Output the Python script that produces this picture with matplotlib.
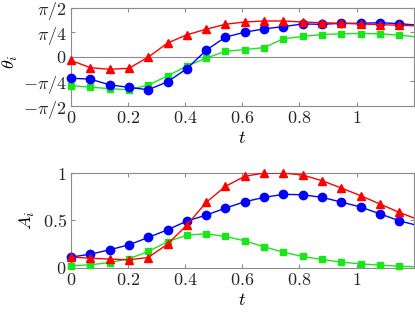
import numpy as np
import matplotlib
matplotlib.use("Agg")
import matplotlib.pyplot as plt

plt.rcParams['mathtext.fontset'] = 'cm'
plt.rcParams['font.family'] = 'serif'
plt.rcParams['font.serif'] = ['cmr10', 'DejaVu Serif']

dt = 0.0676
t = np.arange(19) * dt

# theta_i in units of pi/2
theta_red = [-0.073, -0.22, -0.253, -0.233, -0.007, 0.28, 0.447, 0.56, 0.66, 0.707,
             0.727, 0.727, 0.707, 0.693, 0.68, 0.667, 0.653, 0.64, 0.627]
theta_blue = [-0.433, -0.453, -0.567, -0.62, -0.667, -0.507, -0.24, 0.133, 0.4, 0.5,
              0.567, 0.613, 0.667, 0.66, 0.68, 0.68, 0.693, 0.673, 0.64]
theta_green = [-0.587, -0.613, -0.647, -0.667, -0.573, -0.387, -0.187, -0.027, 0.113, 0.147,
               0.187, 0.367, 0.413, 0.453, 0.467, 0.473, 0.467, 0.44, 0.4]

A_red = [0.113, 0.102, 0.092, 0.085, 0.109, 0.25, 0.45, 0.69, 0.86, 0.965,
         1.0, 1.0, 0.979, 0.919, 0.842, 0.761, 0.673, 0.585, 0.507]
A_blue = [0.113, 0.144, 0.19, 0.243, 0.32, 0.401, 0.493, 0.556, 0.63, 0.697,
          0.743, 0.775, 0.771, 0.743, 0.694, 0.641, 0.57, 0.496, 0.444]
A_green = [0.021, 0.032, 0.056, 0.095, 0.173, 0.275, 0.345, 0.359, 0.331, 0.285,
           0.222, 0.165, 0.12, 0.088, 0.06, 0.042, 0.028, 0.018, 0.01]

xticks = [0, 0.2, 0.4, 0.6, 0.8, 1.0]
xticklabels = ['$0$', '$0.2$', '$0.4$', '$0.6$', '$0.8$', '$1$']
yticks_top = [-np.pi/2, -np.pi/4, 0, np.pi/4, np.pi/2]
yticklabels_top = [r'${-}\pi/2$', r'${-}\pi/4$', '$0$', r'$\pi/4$', r'$\pi/2$']
yticks_bot = [0, 0.5, 1]
yticklabels_bot = ['$0$', '$0.5$', '$1$']

RED = '#ff0000'
BLUE = '#0000ff'
GREEN = '#19e619'
SPINE = '#8c8c8c'
FS = 13
XMAX = 1.2

fig = plt.figure(figsize=(4.15, 3.14), dpi=100)
ax1 = fig.add_axes([0.171, 0.662, 0.826, 0.314])
ax2 = fig.add_axes([0.171, 0.147, 0.826, 0.302])

def style(ax):
    for s in ax.spines.values():
        s.set_color(SPINE)
        s.set_linewidth(0.8)
    ax.tick_params(direction='in', top=True, right=True, length=3, width=0.8,
                   color=SPINE, labelsize=FS, pad=3, labelcolor='#262626')
    ax.set_xlim(0, XMAX)
    ax.set_xticks(xticks)
    ax.set_xticklabels(xticklabels)

def series(ax, y, marker, color, ms, z):
    y = np.asarray(y)
    ax.plot(t, y, '-', color=color, lw=1.0, zorder=z)
    m = t <= XMAX
    ax.plot(t[m], y[m], linestyle='none', marker=marker, color=color, ms=ms,
            clip_on=False, zorder=z)

ax1.axhline(0, color=SPINE, lw=0.8, zorder=1)
series(ax1, np.array(theta_green) * np.pi / 2, 's', GREEN, 4.2, 3)
series(ax1, np.array(theta_blue) * np.pi / 2, 'o', BLUE, 6, 4)
series(ax1, np.array(theta_red) * np.pi / 2, '^', RED, 6, 5)
style(ax1)
ax1.set_ylim(-np.pi/2, np.pi/2)
ax1.set_yticks(yticks_top)
ax1.set_yticklabels(yticklabels_top)
ax1.set_xlabel('$t$', fontsize=FS, labelpad=3)
ax1.set_ylabel(r'$\theta_i$', fontsize=FS)
ax1.yaxis.set_label_coords(-0.149, 0.45)

series(ax2, A_green, 's', GREEN, 4.2, 3)
series(ax2, A_red, '^', RED, 6, 5)
series(ax2, A_blue, 'o', BLUE, 6, 4)
style(ax2)
ax2.set_ylim(0, 1)
ax2.set_yticks(yticks_bot)
ax2.set_yticklabels(yticklabels_bot)
ax2.set_xlabel('$t$', fontsize=FS, labelpad=3)
ax2.set_ylabel(r'$A_i$', fontsize=FS)
ax2.yaxis.set_label_coords(-0.099, 0.5)

fig.savefig('out.png', dpi=100)
